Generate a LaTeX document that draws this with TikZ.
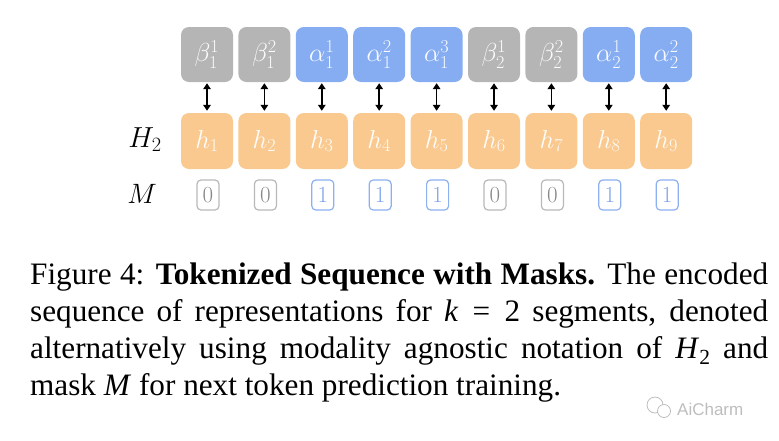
\RequirePackage{fix-cm}
\documentclass[tikz,border=0pt]{standalone}
\usepackage{fontspec}
\setmainfont{Liberation Serif}
\newfontfamily\wmfont{Liberation Sans}
\usetikzlibrary{arrows.meta}
\definecolor{tgray}{HTML}{B5B5B5}
\definecolor{tblue}{HTML}{86ADF2}
\definecolor{horange}{HTML}{F9C98F}
\definecolor{mb0}{HTML}{B8B8B8}
\definecolor{mt0}{HTML}{888888}
\definecolor{mb1}{HTML}{8CB0F0}
\definecolor{mt1}{HTML}{7EA3EA}
\definecolor{wmgray}{HTML}{BDBDBD}
\tikzset{
  tokbox/.style={rounded corners=8pt, minimum width=52pt, minimum height=55pt,
    inner sep=0pt, text=white, text opacity=0.95, font=\fontsize{26}{26}\selectfont},
  hidbox/.style={tokbox, fill=horange, minimum height=56pt},
  maskbox/.style={draw, rounded corners=4pt, line width=1.2pt, minimum width=22pt,
    minimum height=30pt, inner sep=0pt, font=\fontsize{23}{23}\selectfont},
  biarrow/.style={{Triangle[length=6pt,width=7.5pt]}-{Triangle[length=6pt,width=7.5pt]},
    line width=1.6pt, shorten <=1pt, shorten >=2pt},
  rowlabel/.style={anchor=base, font=\fontsize{29}{29}\selectfont},
  capline/.style={anchor=base west, inner sep=0pt, font=\fontsize{31.2}{37}\selectfont}
}
\begin{document}
\begin{tikzpicture}[x=1pt,y=-1pt]
\useasboundingbox (0,0) rectangle (779,440);
\foreach \i/\c/\lab/\m in {1/tgray/\beta_1^1/0, 2/tgray/\beta_1^2/0, 3/tblue/\alpha_1^1/1,
  4/tblue/\alpha_1^2/1, 5/tblue/\alpha_1^3/1, 6/tgray/\beta_2^1/0, 7/tgray/\beta_2^2/0,
  8/tblue/\alpha_2^1/1, 9/tblue/\alpha_2^2/1}{
  \node[tokbox, fill=\c] (t\i) at ({207+57.4*(\i-1)},54.5) {$\lab$};
  \node[hidbox] (h\i) at ({207+57.4*(\i-1)},141) {$h_{\i}$};
  \node[maskbox, draw=mb\m, text=mt\m] (m\i) at ({208+57.4*(\i-1)},195) {$\m$};
  \draw[biarrow] (t\i) -- (h\i);
}
\node[rowlabel] (H) at (145,147) {$H_2$};
\node[rowlabel, font=\fontsize{28}{28}\selectfont] (M) at (142,203) {$M$};
\node[capline] (c1) at (30,284) {\makebox[738pt][s]{Figure 4: \textbf{Tokenized Sequence with Masks.} The encoded}};
\node[capline] (c2) at (30,321) {\makebox[738pt][s]{sequence of representations for \textit{k}\hskip 0.35em plus 0.1em=\hskip 0.35em plus 0.1em 2 segments, denoted}};
\node[capline] (c3) at (30,358) {\makebox[738pt][s]{alternatively using modality agnostic notation of \textit{H}\raisebox{-0.22em}{\fontsize{21.5}{21.5}\selectfont 2} and}};
\node[capline] (c4) at (30,395) {mask \textit{M} for next token prediction training.};
\draw[wmgray, line width=0.8pt] (655,405) circle (8);
\draw[wmgray, line width=0.8pt, fill=white] (664,411) circle (6.5);
\node[anchor=base west, inner sep=0pt, text=wmgray, font=\wmfont\fontsize{17}{17}\selectfont] (wm) at (677,415) {AiCharm};
\end{tikzpicture}
\end{document}
